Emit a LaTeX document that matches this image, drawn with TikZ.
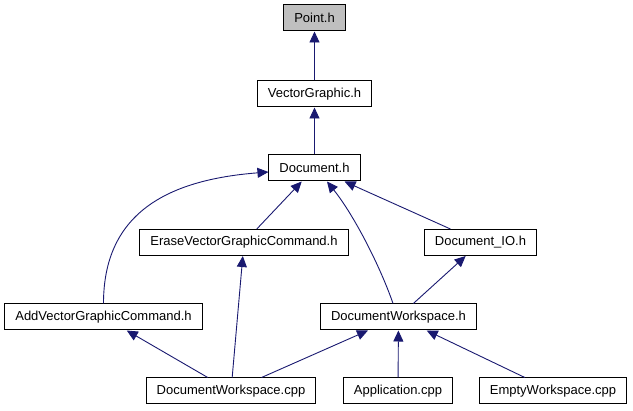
\documentclass[tikz,border=0pt]{standalone}
\usepackage{fontspec}
\setmainfont{Liberation Sans}
\usepackage{xcolor}
\usepackage{tikz}
\usetikzlibrary{arrows.meta}
\definecolor{EdgeBlue}{HTML}{191970}
\definecolor{FocusGray}{HTML}{BFBFBF}
\newcommand{\filefont}{\fontsize{13}{15}\selectfont}
\tikzset{
  filebox/.style={draw=black, line width=1pt, fill=white, font=\filefont,
    minimum height=26pt, inner xsep=10.5pt, inner ysep=0pt},
  incl/.style={draw=EdgeBlue, line width=0.9pt,
    -{Triangle[length=11pt,width=10pt]}},
}

\begin{document}
\begin{tikzpicture}[x=1pt,y=-1pt]
  \useasboundingbox (0,0) rectangle (633,411);
  \foreach \n/\x/\y/\t in {
    vecgraphic/314.5/94/{VectorGraphic.h},
    document/314.5/168/{Document.h},
    erasecmd/244/242.5/{EraseVectorGraphicCommand.h},
    docio/480.5/242.5/{Document\_IO.h},
    addcmd/103.5/317/{AddVectorGraphicCommand.h},
    dwsh/398.5/317/{DocumentWorkspace.h},
    dwscpp/231/391/{DocumentWorkspace.cpp},
    app/398/391/{Application.cpp},
    emptyws/553/391/{EmptyWorkspace.cpp}}{
    \node[filebox] (\n) at (\x,\y) {\t};
  }
  \node[filebox, fill=FocusGray] (point) at (314.5,18) {Point.h}; % fichier courant
  \foreach \a/\b in {vecgraphic/point, document/vecgraphic, erasecmd/document,
    docio/document, dwsh/docio, dwscpp/addcmd, dwscpp/erasecmd,
    dwscpp/dwsh, app/dwsh, emptyws/dwsh}{
    \draw[incl] (\a) -- (\b);
  }
  % arcs courbes
  \draw[incl] (addcmd.north) .. controls +(0,-89) and +(-103,8) .. ([yshift=-4pt]document.west);
  \draw[incl] ([xshift=-5.5pt]dwsh.north) .. controls +(-12,-35) and +(28,35) .. ([xshift=12.5pt]document.south);
\end{tikzpicture}
\end{document}
